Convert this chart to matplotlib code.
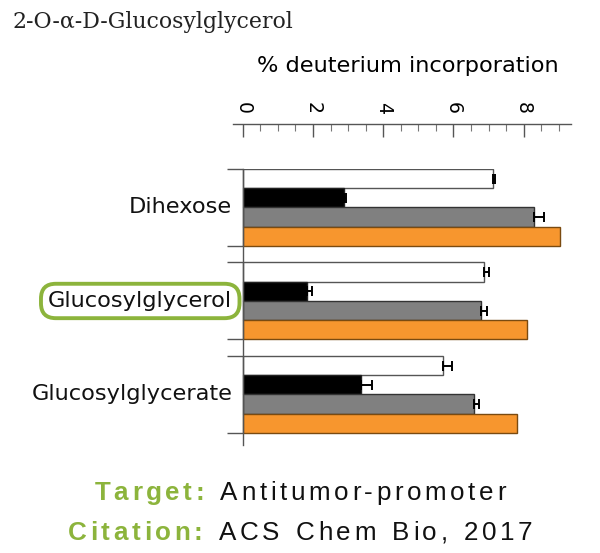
import matplotlib.pyplot as plt
from matplotlib.ticker import MultipleLocator

# -----------------------------
# data
# -----------------------------
categories = ["Dihexose", "Glucosylglycerol", "Glucosylglycerate"]
white_vals = [7.13, 6.86, 5.70]
white_err = [0.05, 0.14, 0.27]
black_vals = [2.87, 1.84, 3.37]
black_err = [0.06, 0.13, 0.32]
gray_vals = [8.29, 6.79, 6.59]
gray_err = [0.30, 0.18, 0.15]
orange_vals = [9.05, 8.09, 7.81]
orange_err = [0, 0, 0]

series = [
    (white_vals, white_err, "white", "#555555"),
    (black_vals, black_err, "black", "#222222"),
    (gray_vals, gray_err, "#808080", "#333333"),
    (orange_vals, orange_err, "#f7962e", "#7a4a10"),
]

GREEN = "#8cb43c"
W, H = 600, 553

fig = plt.figure(figsize=(6, 5.53), dpi=100)

# axes: x from 233px to 571px, y from 169px to 445px
ax = fig.add_axes([233 / W, 1 - 445 / H, (571 - 233) / W, (445 - 169) / H])

step = 4.857
for j, (vals, err, fc, ec) in enumerate(series):
    ys = [i * step + j + 0.5 for i in range(len(categories))]
    ax.barh(ys, vals, height=1.0, color=fc, edgecolor=ec, linewidth=1.0, zorder=2)
    if any(err):
        ax.errorbar(vals, ys, xerr=[[0] * len(err), err], fmt="none",
                    ecolor="black", elinewidth=1.4, capsize=3.8, capthick=1.4, zorder=3)

ax.set_xlim(-0.28, 9.35)
ax.set_ylim(14.34, 0)

# spines
ax.spines["right"].set_visible(False)
ax.spines["bottom"].set_visible(False)
ax.spines["left"].set_position(("data", 0))
ax.spines["top"].set_position(("outward", 32.4))
for s in ["left", "top"]:
    ax.spines[s].set_color("#555555")
    ax.spines[s].set_linewidth(1.0)

# top axis ticks
ax.xaxis.set_ticks_position("top")
ax.xaxis.set_label_position("top")
ax.set_xticks([0, 2, 4, 6, 8])
ax.xaxis.set_minor_locator(MultipleLocator(0.5))
ax.tick_params(axis="x", which="major", direction="in", length=9, width=1.0,
               color="#555555", labelsize=13.5, pad=7, labelrotation=-90)
ax.tick_params(axis="x", which="minor", direction="in", length=5, width=0.8, color="#777777")
for lab in ax.get_xticklabels():
    lab.set_va("bottom")
ax.set_xlabel("% deuterium incorporation", fontsize=16.2, labelpad=22, x=0.516)

# left ticks at group bounds
bounds = []
for i in range(len(categories)):
    bounds += [i * step, i * step + 4]
ax.set_yticks(bounds)
ax.set_yticklabels([])
ax.tick_params(axis="y", direction="out", length=11.5, width=1.0, color="#555555")

# category labels
for i, cat in enumerate(categories):
    yc = i * step + 2
    t = ax.text(-0.30, yc, cat, ha="right", va="center", fontsize=16.2, color="#111111")
    if cat == "Glucosylglycerol":
        t.set_bbox(dict(boxstyle="round,pad=0.32,rounding_size=0.66", fc="white",
                        ec=GREEN, lw=2.8))

# title
fig.text(12 / W, 1 - 22 / H, "2-O-α-D-Glucosylglycerol", family="DejaVu Serif",
         fontsize=15.8, color="#222222", ha="left", va="center")

# -----------------------------
# letter spaced footer
# -----------------------------
renderer = fig.canvas.get_renderer()


def spaced_line(ycenter, parts, size, spacing):
    items = []
    for s, color, weight in parts:
        for ch in s:
            if ch == " ":
                items.append((None, size * 0.48))
                continue
            t = fig.text(0, 1 - ycenter / H, ch, fontsize=size, color=color,
                         weight=weight, family="Liberation Sans", ha="left", va="center")
            items.append((t, t.get_window_extent(renderer).width))
    total = sum(w for _, w in items) + spacing * (len(items) - 1)
    x = W / 2 - total / 2
    for t, w in items:
        if t is not None:
            t.set_x(x / W)
        x += w + spacing


spaced_line(493, [("Target:", GREEN, "bold"), (" Antitumor-promoter", "#111111", "normal")], 18.7, 3.6)
spaced_line(533, [("Citation:", GREEN, "bold"), (" ACS Chem Bio, 2017", "#111111", "normal")], 18.7, 3.6)

fig.savefig("out.png", dpi=100)
